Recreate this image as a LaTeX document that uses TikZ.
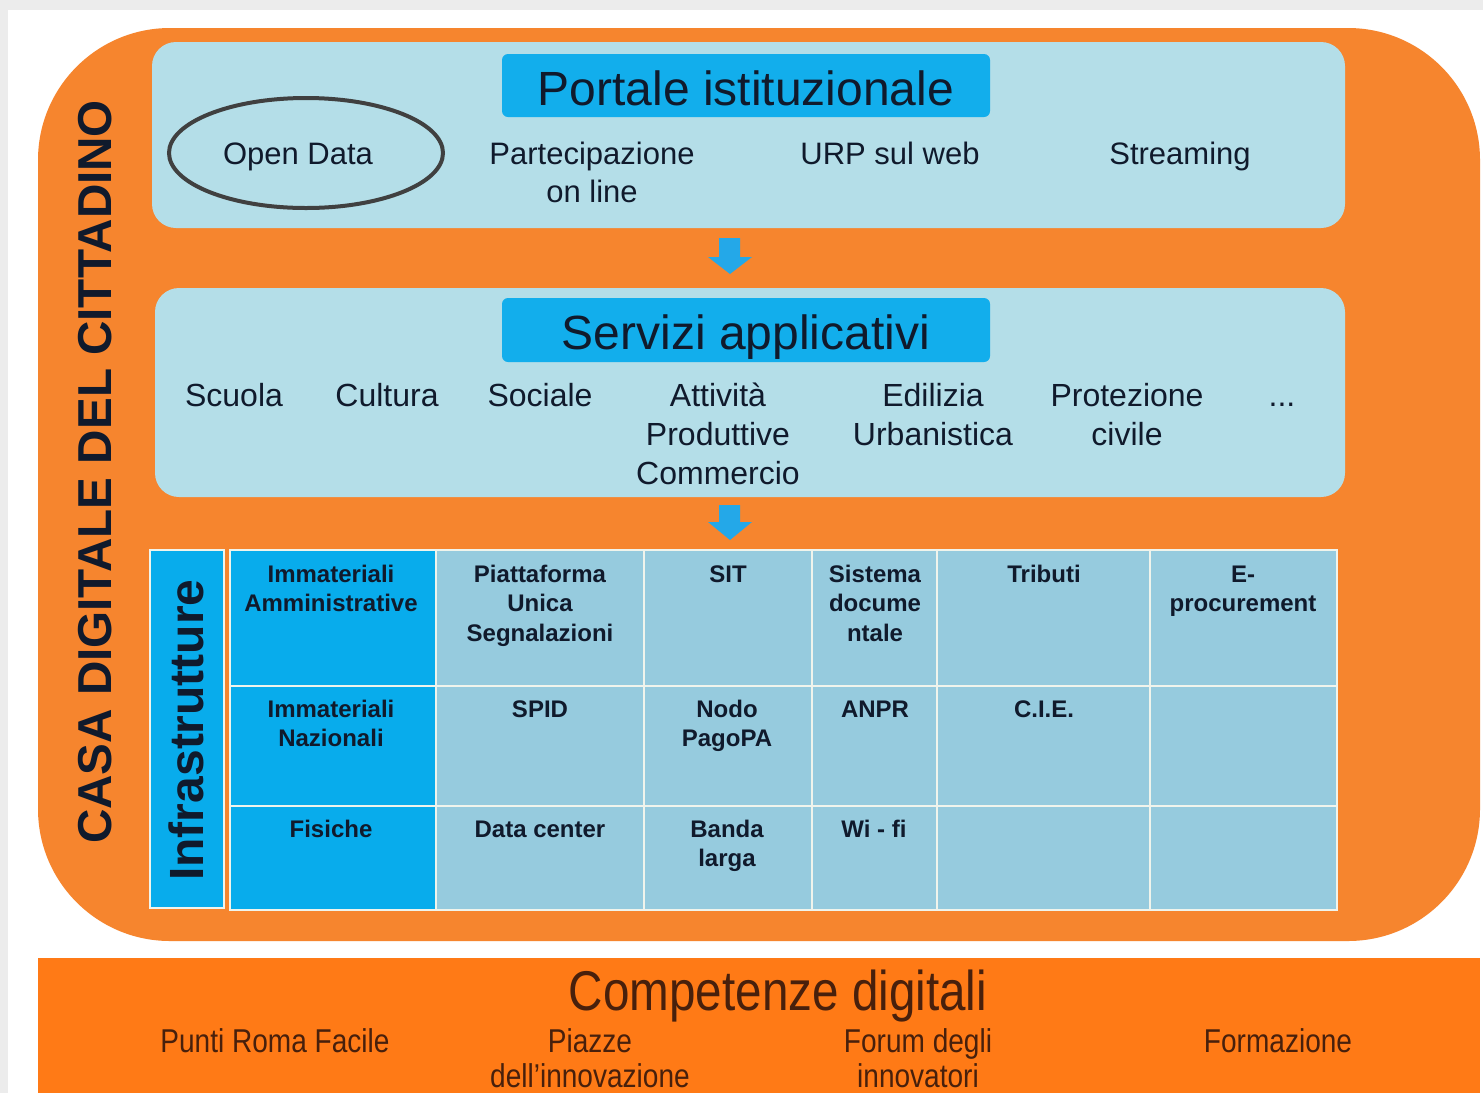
\documentclass[tikz,border=0pt]{standalone}
\usepackage{fontspec}
\setmainfont{Liberation Sans}
\newfontfamily\narrowfont[FakeStretch=0.85]{Liberation Sans}
\usetikzlibrary{shapes.geometric}
\definecolor{framegray}{RGB}{236,236,236}
\definecolor{orangeA}{RGB}{246,133,46}
\definecolor{orangeB}{RGB}{255,122,22}
\definecolor{panelblue}{RGB}{180,222,232}
\definecolor{titleblue}{RGB}{18,174,236}
\definecolor{darkcol}{RGB}{8,172,236}
\definecolor{cellblue}{RGB}{150,203,222}
\definecolor{txtnavy}{RGB}{16,26,44}
\definecolor{txtbrown}{RGB}{72,32,12}
\definecolor{arrowblue}{RGB}{36,168,232}
\definecolor{gridline}{RGB}{240,244,236}
\definecolor{ringgray}{RGB}{64,64,64}
\tikzset{
  titletxt/.style={anchor=base, text=txtnavy, inner sep=0pt, font=\fontsize{24}{28}\selectfont},
  itemtxt/.style={anchor=base, text=txtnavy, inner sep=0pt, align=center, font=\fontsize{15.5}{19}\selectfont},
  svctxt/.style={anchor=base, text=txtnavy, inner sep=0pt, align=center, font=\fontsize{16}{19.5}\selectfont},
  celltxt/.style={anchor=base, text=txtnavy, inner sep=0pt, align=center, font=\fontsize{12}{14.8}\selectfont\bfseries},
  bandtxt/.style={anchor=base, text=txtbrown, inner sep=0pt, align=center, font=\narrowfont\fontsize{16.5}{17.5}\selectfont},
  downarrow/.style={fill=arrowblue}
}
\begin{document}
\begin{tikzpicture}[x=0.5pt,y=-0.5pt]
\useasboundingbox (0,0) rectangle (1483,1093);
% background frame
\fill[framegray] (0,0) rectangle (1483,1093);
\fill[white] (8,10) rectangle (1483,1093);
% outer orange container
\fill[orangeA, rounded corners=66pt] (38,28) rectangle (1480,941);
% panels
\fill[panelblue, rounded corners=12pt] (152,42) rectangle (1345,228);
\fill[panelblue, rounded corners=12pt] (155,288) rectangle (1345,497);
% title boxes
\fill[titleblue, rounded corners=3pt] (502,54) rectangle (990,117);
\fill[titleblue, rounded corners=3pt] (502,298) rectangle (990,362);
% arrows
\fill[downarrow] (719,238) -- (740,238) -- (740,257) -- (752,257) -- (730,274) -- (708,257) -- (719,257) -- cycle;
\fill[downarrow] (719,505) -- (740,505) -- (740,522) -- (752,522) -- (730,540) -- (708,522) -- (719,522) -- cycle;
% vertical title
\node[anchor=base, rotate=90, inner sep=0pt, text=txtnavy, font=\fontsize{23.8}{28}\selectfont\bfseries] (casa) at (111,472) {CASA DIGITALE DEL CITTADINO};
% portal
\node[titletxt] (portale) at (746,105) {Portale istituzionale};
\node[ellipse, draw=ringgray, line width=2pt, minimum width=137pt, minimum height=55pt, inner sep=0pt] (ring) at (306,153) {};
\node[itemtxt] (opendata) at (298,164) {Open Data};
\node[itemtxt] (partec) at (592,202) {Partecipazione\\on line};
\node[itemtxt] (urp) at (890,164) {URP sul web};
\node[itemtxt] (stream) at (1180,164) {Streaming};
% services
\node[titletxt] (servizi) at (746,349) {Servizi applicativi};
\node[svctxt] (scuola) at (234,406) {Scuola};
\node[svctxt] (cultura) at (387,406) {Cultura};
\node[svctxt] (sociale) at (540,406) {Sociale};
\node[svctxt] (attivita) at (718,484) {Attività\\Produttive\\Commercio};
\node[svctxt] (edilizia) at (933,445) {Edilizia\\Urbanistica};
\node[svctxt] (protez) at (1127,445) {Protezione\\civile};
\node[svctxt] (dots) at (1282,406) {...};
% infrastructure table
\fill[darkcol] (150,550) rectangle (224,908);
\draw[gridline, line width=1pt] (150,550) rectangle (224,908);
\node[anchor=base, rotate=90, inner sep=0pt, text=txtnavy, font=\fontsize{24}{28}\selectfont\bfseries] (infra) at (203,730) {Infrastrutture};
\fill[cellblue] (230,550) rectangle (1337,910);
\fill[darkcol] (230,550) rectangle (436,910);
\draw[gridline, line width=1.1pt] (230,550) rectangle (1337,910);
\foreach \xx in {436,644,812,937,1150} \draw[gridline, line width=1.1pt] (\xx,550) -- (\xx,910);
\foreach \yy in {686,806} \draw[gridline, line width=1.1pt] (230,\yy) -- (1337,\yy);
% row 1
\node[celltxt] (r1c1) at (331,611.6) {Immateriali\\Amministrative};
\node[celltxt] (r1c2) at (540,641.2) {Piattaforma\\Unica\\Segnalazioni};
\node[celltxt] (r1c3) at (728,582) {SIT};
\node[celltxt] (r1c4) at (875,641.2) {Sistema\\docume\\ntale};
\node[celltxt] (r1c5) at (1044,582) {Tributi};
\node[celltxt] (r1c6) at (1243,611.6) {E-\\procurement};
% row 2
\node[celltxt] (r2c1) at (331,746.6) {Immateriali\\Nazionali};
\node[celltxt] (r2c2) at (540,717) {SPID};
\node[celltxt] (r2c3) at (727,746.6) {Nodo\\PagoPA};
\node[celltxt] (r2c4) at (875,717) {ANPR};
\node[celltxt] (r2c5) at (1044,717) {C.I.E.};
% row 3
\node[celltxt] (r3c1) at (331,837) {Fisiche};
\node[celltxt] (r3c2) at (540,837) {Data center};
\node[celltxt] (r3c3) at (727,866.6) {Banda\\larga};
\node[celltxt] (r3c4) at (874,837) {Wi - fi};
% bottom band
\fill[orangeB] (38,958) rectangle (1480,1093);
\node[anchor=base, inner sep=0pt, text=txtbrown, font=\narrowfont\fontsize{28}{32}\selectfont] (compet) at (778,1010) {Competenze digitali};
\node[bandtxt] (punti) at (275,1052) {Punti Roma Facile};
\node[bandtxt] (piazze) at (590,1087) {Piazze\\dell’innovazione};
\node[bandtxt] (forum) at (918,1087) {Forum degli\\innovatori};
\node[bandtxt] (formaz) at (1278,1052) {Formazione};
\end{tikzpicture}
\end{document}
